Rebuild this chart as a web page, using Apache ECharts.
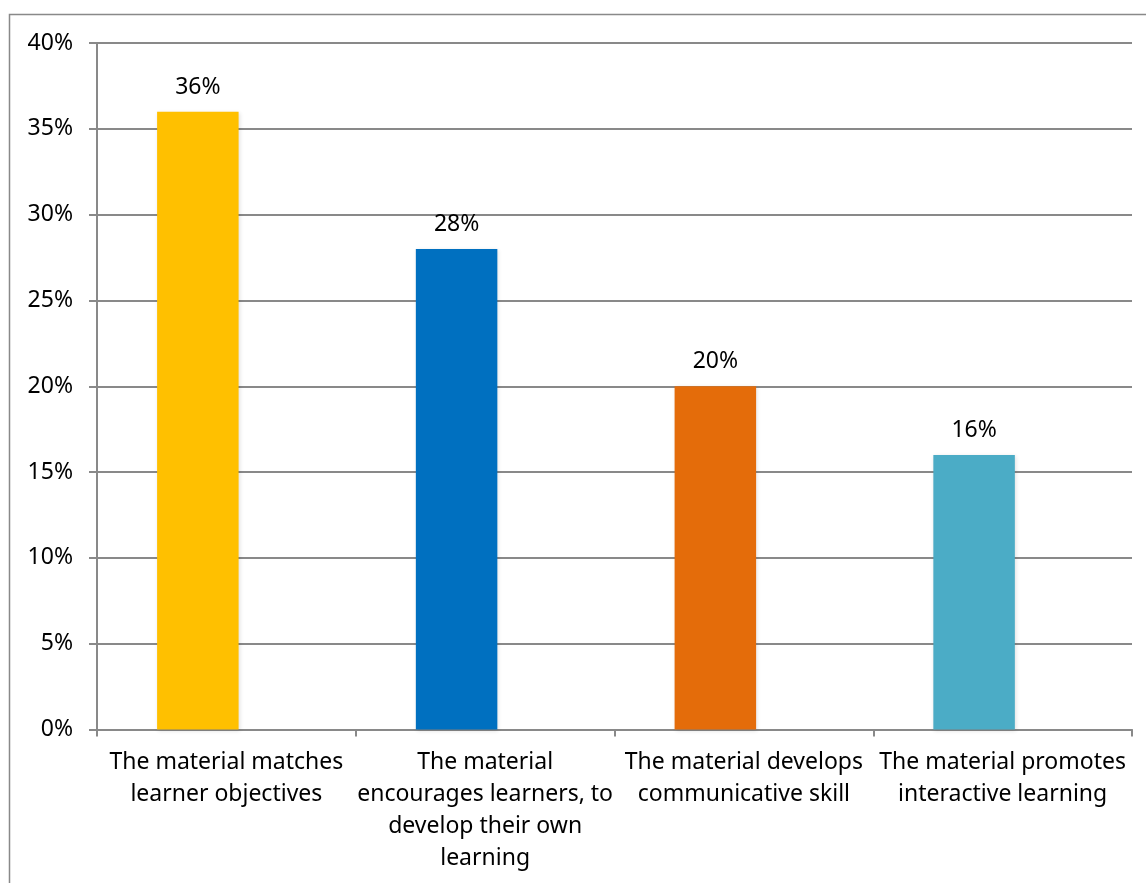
<!DOCTYPE html>
<html>
<head>
<meta charset="utf-8">
<script src="https://cdn.jsdelivr.net/npm/echarts@6/dist/echarts.min.js"></script>
<style>
  html, body { margin: 0; padding: 0; background: #fff; }
  #chart { width: 1146px; height: 883px; }
</style>
</head>
<body>
<div id="chart"></div>
<script>
const categories = [
  "The material matches\nlearner objectives",
  "The material\nencourages learners, to\ndevelop their own\nlearning",
  "The material develops\ncommunicative skill",
  "The material promotes\ninteractive learning"
];
const values = [36, 28, 20, 16];
// the source chart carries a second, empty series that shifts the bars left
const emptyValues = [null, null, null, null];
const barColors = ["#FFC000", "#0070C0", "#E46C0A", "#4BACC6"];

const chart = echarts.init(document.getElementById("chart"));
const font = "'Noto Sans', sans-serif";
const axisGray = "#898989";

chart.setOption({
  animation: false,
  textStyle: { fontFamily: font },
  graphic: [
    {
      type: "rect",
      shape: { x: 9.5, y: 14.5, width: 1160, height: 900 },
      style: { fill: "none", stroke: axisGray, lineWidth: 1.5 },
      silent: true
    }
  ],
  grid: { left: 97, right: 14, top: 43, bottom: 153.5 },
  xAxis: {
    type: "category",
    data: categories,
    axisLine: { lineStyle: { color: axisGray, width: 2 } },
    axisTick: { show: true, length: 7, lineStyle: { color: axisGray, width: 2 } },
    axisLabel: {
      color: "#000",
      fontSize: 23,
      lineHeight: 32,
      margin: 17,
      interval: 0,
      fontFamily: font
    }
  },
  yAxis: {
    type: "value",
    min: 0,
    max: 40,
    interval: 5,
    axisLine: { show: true, lineStyle: { color: axisGray, width: 2 } },
    axisTick: { show: true, length: 8, lineStyle: { color: axisGray, width: 2 } },
    splitLine: { lineStyle: { color: axisGray, width: 2 } },
    axisLabel: {
      color: "#000",
      fontSize: 23,
      margin: 24,
      formatter: "{value}%",
      fontFamily: font
    }
  },
  series: [
    {
      type: "bar",
      barWidth: "31.5%",
      barGap: "-30%",
      data: values.map((v, i) => ({ value: v, itemStyle: { color: barColors[i] } })),
      itemStyle: {
        shadowColor: "rgba(0,0,0,0.12)",
        shadowBlur: 4,
        shadowOffsetX: 1,
        shadowOffsetY: 1
      },
      label: {
        show: true,
        position: "top",
        distance: 13,
        color: "#000",
        fontSize: 23,
        formatter: "{c}%",
        fontFamily: font
      }
    },
    {
      type: "bar",
      barWidth: "31.5%",
      data: emptyValues,
      silent: true
    }
  ]
});

window.addEventListener("resize", () => chart.resize());
</script>
</body>
</html>
